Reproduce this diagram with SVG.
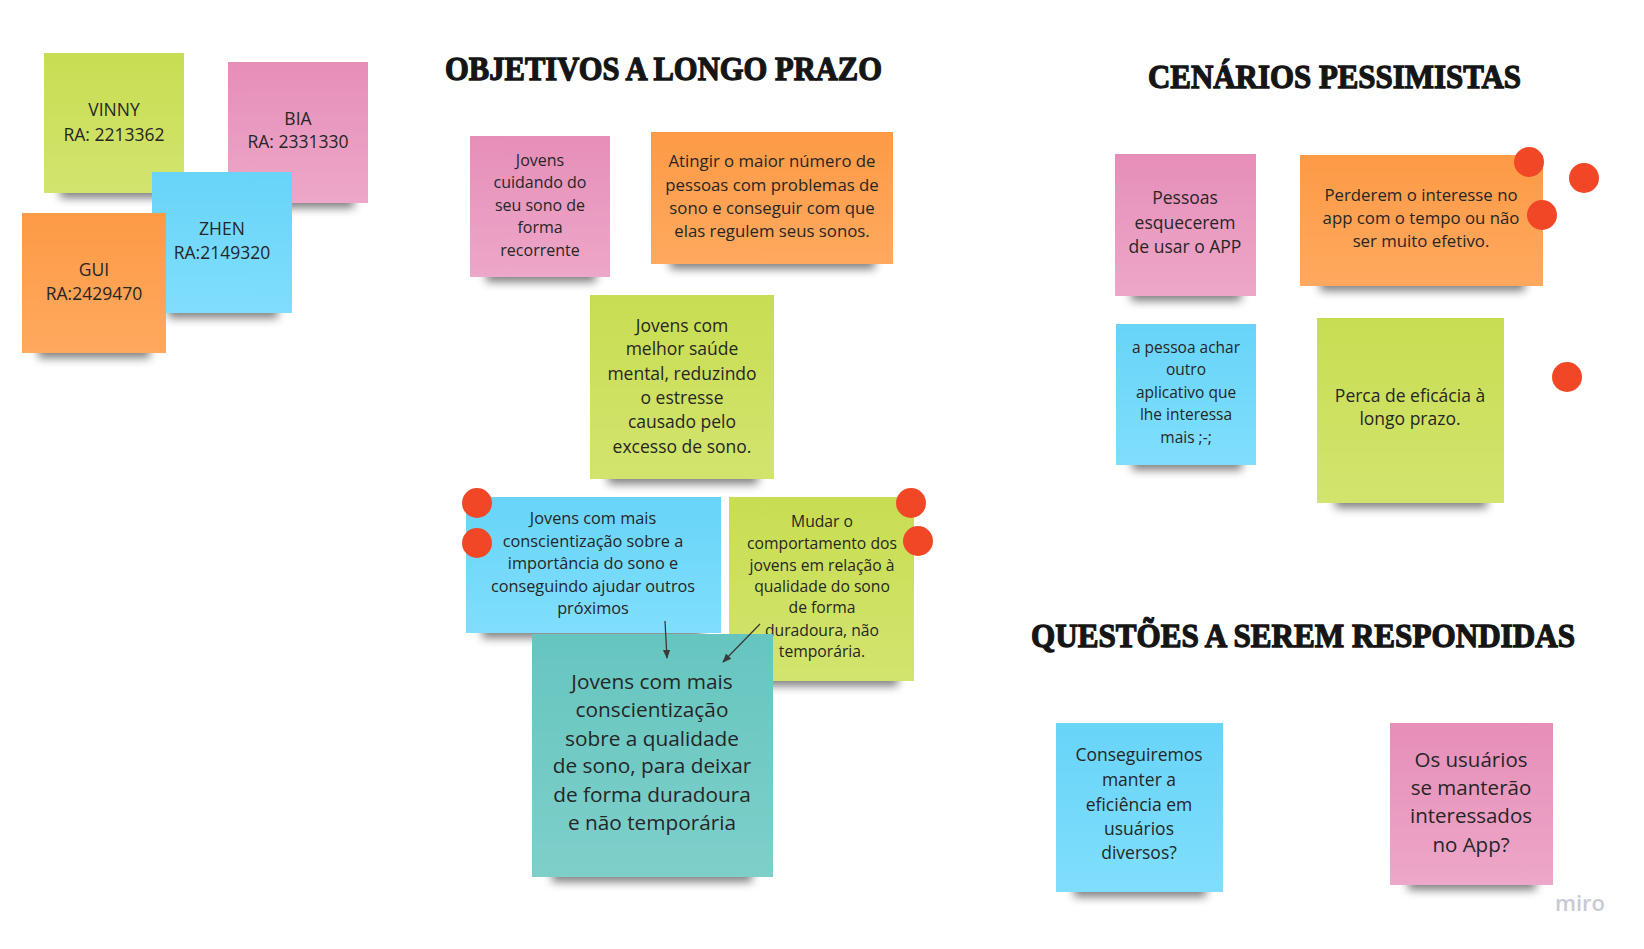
<svg xmlns="http://www.w3.org/2000/svg" width="1644" height="949" viewBox="0 0 1644 949">
<defs>
<linearGradient id="gGreen" x1="0" y1="0" x2="0" y2="1"><stop offset="0" stop-color="#c8dd52"/><stop offset="1" stop-color="#d3e46e"/></linearGradient>
<linearGradient id="gPink" x1="0" y1="0" x2="0" y2="1"><stop offset="0" stop-color="#e68eb8"/><stop offset="1" stop-color="#eda7c8"/></linearGradient>
<linearGradient id="gBlue" x1="0" y1="0" x2="0" y2="1"><stop offset="0" stop-color="#67d4f8"/><stop offset="1" stop-color="#80defc"/></linearGradient>
<linearGradient id="gOrange" x1="0" y1="0" x2="0" y2="1"><stop offset="0" stop-color="#fd9a45"/><stop offset="1" stop-color="#fea95f"/></linearGradient>
<linearGradient id="gTeal" x1="0" y1="0" x2="0" y2="1"><stop offset="0" stop-color="#66c5bf"/><stop offset="1" stop-color="#7ecfca"/></linearGradient>
<filter id="blur" x="-20%" y="-100%" width="140%" height="300%"><feGaussianBlur stdDeviation="5"/></filter>
<marker id="arr" viewBox="0 0 10 10" refX="9" refY="5" markerWidth="7" markerHeight="7" orient="auto-start-reverse"><path d="M0,1 L10,5 L0,9 Z" fill="#3a3a3a"/></marker>
<style>
.sh{fill:#000;opacity:.5;filter:url(#blur)}
.t{font-family:"Open Sans","Noto Sans","DejaVu Sans",sans-serif;fill:#262626;text-anchor:middle}
.h{font-family:"Liberation Serif","DejaVu Serif",serif;font-weight:bold;fill:#151515;stroke:#151515;stroke-width:1.3}
.dot{fill:#f24726}
.green{fill:url(#gGreen)}.pink{fill:url(#gPink)}.blue{fill:url(#gBlue)}.orange{fill:url(#gOrange)}.teal{fill:url(#gTeal)}
.ln{stroke:#3a3a3a;stroke-width:1.3;fill:none;marker-end:url(#arr)}
</style>
</defs>
<rect width="1644" height="949" fill="#ffffff"/>

<g id="titles">
<text class="h" x="445" y="80" font-size="34" textLength="437" lengthAdjust="spacingAndGlyphs">OBJETIVOS A LONGO PRAZO</text>
<text class="h" x="1148" y="88" font-size="34" textLength="373" lengthAdjust="spacingAndGlyphs">CENÁRIOS PESSIMISTAS</text>
<text class="h" x="1031" y="647" font-size="34" textLength="544" lengthAdjust="spacingAndGlyphs">QUESTÕES A SEREM RESPONDIDAS</text>
</g>

<g id="note-vinny">
<rect class="sh" x="60" y="180" width="110" height="18"/>
<rect class="green" x="44" y="53" width="140" height="140"/>
<text class="t" font-size="17.5"><tspan x="114" y="116">VINNY</tspan><tspan x="114" y="141">RA: 2213362</tspan></text>
</g>
<g id="note-bia">
<rect class="sh" x="244" y="190" width="110" height="18"/>
<rect class="pink" x="228" y="62" width="140" height="141"/>
<text class="t" font-size="17.5"><tspan x="298" y="125">BIA</tspan><tspan x="298" y="148">RA: 2331330</tspan></text>
</g>
<g id="note-zhen">
<rect class="sh" x="168" y="300" width="110" height="18"/>
<rect class="blue" x="152" y="172" width="140" height="141"/>
<text class="t" font-size="17.5"><tspan x="222" y="235">ZHEN</tspan><tspan x="222" y="259">RA:2149320</tspan></text>
</g>
<g id="note-gui">
<rect class="sh" x="38" y="340" width="112" height="18"/>
<rect class="orange" x="22" y="213" width="144" height="140"/>
<text class="t" font-size="17.5"><tspan x="94" y="276">GUI</tspan><tspan x="94" y="300">RA:2429470</tspan></text>
</g>

<g id="note-cuidando">
<rect class="sh" x="486" y="264" width="110" height="18"/>
<rect class="pink" x="470" y="136" width="140" height="141"/>
<text class="t" font-size="16"><tspan x="540" y="166">Jovens</tspan><tspan x="540" y="188">cuidando do</tspan><tspan x="540" y="211">seu sono de</tspan><tspan x="540" y="233">forma</tspan><tspan x="540" y="256">recorrente</tspan></text>
</g>
<g id="note-atingir">
<rect class="sh" x="670" y="251" width="205" height="18"/>
<rect class="orange" x="651" y="132" width="242" height="132"/>
<text class="t" font-size="16.8"><tspan x="772" y="167">Atingir o maior número de</tspan><tspan x="772" y="191">pessoas com problemas de</tspan><tspan x="772" y="214">sono e conseguir com que</tspan><tspan x="772" y="237">elas regulem seus sonos.</tspan></text>
</g>
<g id="note-saude">
<rect class="sh" x="608" y="466" width="150" height="18"/>
<rect class="green" x="590" y="295" width="184" height="184"/>
<text class="t" font-size="17.5"><tspan x="682" y="332">Jovens com</tspan><tspan x="682" y="355">melhor saúde</tspan><tspan x="682" y="380">mental, reduzindo</tspan><tspan x="682" y="404">o estresse</tspan><tspan x="682" y="428">causado pelo</tspan><tspan x="682" y="453">excesso de sono.</tspan></text>
</g>
<g id="note-conscientizacao">
<rect class="sh" x="482" y="620" width="220" height="18"/>
<rect class="blue" x="466" y="497" width="255" height="136"/>
<text class="t" font-size="16.3"><tspan x="593" y="524">Jovens com mais</tspan><tspan x="593" y="547">conscientização sobre a</tspan><tspan x="593" y="569">importância do sono e</tspan><tspan x="593" y="592">conseguindo ajudar outros</tspan><tspan x="593" y="614">próximos</tspan></text>
</g>
<g id="note-mudar">
<rect class="sh" x="748" y="668" width="150" height="18"/>
<rect class="green" x="729" y="497" width="185" height="184"/>
<text class="t" font-size="15.7"><tspan x="822" y="527">Mudar o</tspan><tspan x="822" y="549">comportamento dos</tspan><tspan x="822" y="571">jovens em relação à</tspan><tspan x="822" y="592">qualidade do sono</tspan><tspan x="822" y="613">de forma</tspan><tspan x="822" y="636">duradoura, não</tspan><tspan x="822" y="657">temporária.</tspan></text>
</g>
<g id="note-qualidade">
<rect class="sh" x="552" y="864" width="200" height="18"/>
<rect class="teal" x="532" y="634" width="241" height="243"/>
<text class="t" font-size="20.8"><tspan x="652" y="689">Jovens com mais</tspan><tspan x="652" y="717">conscientização</tspan><tspan x="652" y="746">sobre a qualidade</tspan><tspan x="652" y="773">de sono, para deixar</tspan><tspan x="652" y="802">de forma duradoura</tspan><tspan x="652" y="830">e não temporária</tspan></text>
</g>

<g id="connectors">
<line class="ln" x1="665" y1="621" x2="667" y2="658"/>
<line class="ln" x1="760" y1="624" x2="723" y2="662"/>
</g>

<g id="note-esquecerem">
<rect class="sh" x="1131" y="283" width="110" height="18"/>
<rect class="pink" x="1115" y="154" width="141" height="142"/>
<text class="t" font-size="17.5"><tspan x="1185" y="204">Pessoas</tspan><tspan x="1185" y="229">esquecerem</tspan><tspan x="1185" y="253">de usar o APP</tspan></text>
</g>
<g id="note-perderem">
<rect class="sh" x="1320" y="273" width="205" height="18"/>
<rect class="orange" x="1300" y="155" width="243" height="131"/>
<text class="t" font-size="16.8"><tspan x="1421" y="201">Perderem o interesse no</tspan><tspan x="1421" y="224">app com o tempo ou não</tspan><tspan x="1421" y="247">ser muito efetivo.</tspan></text>
</g>
<g id="note-outro">
<rect class="sh" x="1132" y="452" width="110" height="18"/>
<rect class="blue" x="1116" y="324" width="140" height="141"/>
<text class="t" font-size="15.5"><tspan x="1186" y="353">a pessoa achar</tspan><tspan x="1186" y="375">outro</tspan><tspan x="1186" y="398">aplicativo que</tspan><tspan x="1186" y="420">lhe interessa</tspan><tspan x="1186" y="443">mais ;-;</tspan></text>
</g>
<g id="note-eficacia">
<rect class="sh" x="1335" y="490" width="152" height="18"/>
<rect class="green" x="1317" y="318" width="187" height="185"/>
<text class="t" font-size="17.5"><tspan x="1410" y="402">Perca de eficácia à</tspan><tspan x="1410" y="425">longo prazo.</tspan></text>
</g>

<g id="note-eficiencia">
<rect class="sh" x="1074" y="879" width="132" height="18"/>
<rect class="blue" x="1056" y="723" width="167" height="169"/>
<text class="t" font-size="17.5"><tspan x="1139" y="761">Conseguiremos</tspan><tspan x="1139" y="786">manter a</tspan><tspan x="1139" y="811">eficiência em</tspan><tspan x="1139" y="835">usuários</tspan><tspan x="1139" y="859">diversos?</tspan></text>
</g>
<g id="note-usuarios">
<rect class="sh" x="1408" y="872" width="128" height="18"/>
<rect class="pink" x="1390" y="723" width="163" height="162"/>
<text class="t" font-size="20.5"><tspan x="1471" y="767">Os usuários</tspan><tspan x="1471" y="795">se manterão</tspan><tspan x="1471" y="823">interessados</tspan><tspan x="1471" y="852">no App?</tspan></text>
</g>

<g id="dots">
<circle class="dot" cx="477" cy="503" r="15"/>
<circle class="dot" cx="477" cy="543" r="15"/>
<circle class="dot" cx="911" cy="503" r="15"/>
<circle class="dot" cx="918" cy="541" r="15"/>
<circle class="dot" cx="1529" cy="162" r="15"/>
<circle class="dot" cx="1584" cy="178" r="15"/>
<circle class="dot" cx="1542" cy="215" r="15"/>
<circle class="dot" cx="1567" cy="377" r="15"/>
</g>

<text x="1580" y="911" font-family="'Open Sans','Noto Sans',sans-serif" font-weight="600" font-size="22" fill="#c9c9d6" text-anchor="middle">miro</text>
</svg>
